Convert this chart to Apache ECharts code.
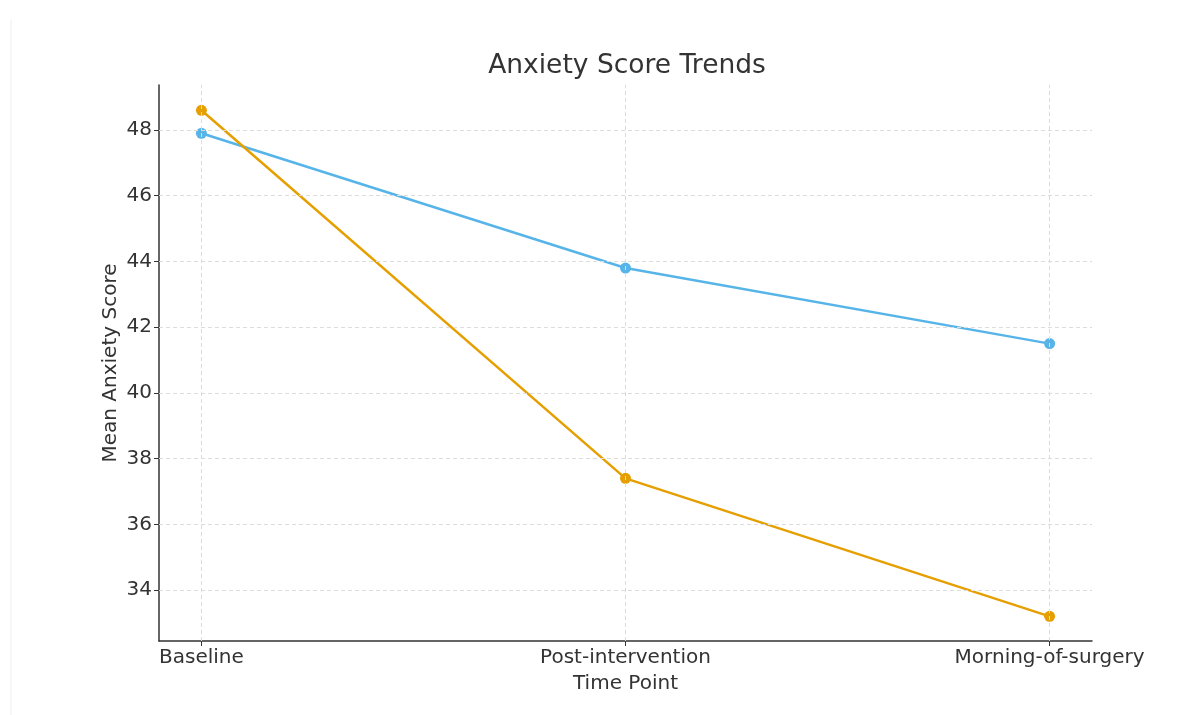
<!DOCTYPE html>
<html>
<head>
<meta charset="utf-8">
<script src="https://cdn.jsdelivr.net/npm/echarts@6/dist/echarts.min.js"></script>
<style>html,body{margin:0;padding:0;background:#fff}#c{width:1202px;height:715px}</style>
</head>
<body>
<div id="c"></div>
<script>
const categories = ['Baseline', 'Post-intervention', 'Morning-of-surgery'];
const seriesA = [47.9, 43.8, 41.5];
const seriesB = [48.6, 37.4, 33.2];
const yTicks = [34, 36, 38, 40, 42, 44, 46, 48];

const chart = echarts.init(document.getElementById('c'));
const font = 'DejaVu Sans';
const toPts = arr => arr.map((v, i) => [i, v]);
chart.setOption({
  animation: false,
  textStyle: {fontFamily: font},
  title: {
    text: 'Anxiety Score Trends', left: 622, textAlign: 'center', top: 48,
    textStyle: {fontFamily: font, fontSize: 26.5, fontWeight: 'normal', color: '#333'}
  },
  graphic: [{type: 'line', shape: {x1: 11, y1: 20, x2: 11, y2: 715}, style: {stroke: '#eeeeee', lineWidth: 1}}],
  grid: {left: 159, right: 110, top: 85, bottom: 74},
  xAxis: {
    type: 'value', min: -0.1, max: 2.1,
    name: 'Time Point', nameLocation: 'middle', nameGap: 33, nameMoveOverlap: false,
    nameTextStyle: {fontFamily: font, fontSize: 20, color: '#333'},
    axisLine: {show: true, onZero: false, lineStyle: {color: '#333', width: 1.5}},
    axisTick: {show: true, customValues: [0, 1, 2], length: 5, lineStyle: {color: '#333'}},
    axisLabel: {customValues: [0, 1, 2], formatter: v => categories[Math.round(v)] || '', fontFamily: font, fontSize: 20, color: '#333', margin: 7},
    splitLine: {show: false}
  },
  yAxis: {
    type: 'value', min: 32.45, max: 49.37,
    name: 'Mean Anxiety Score', nameLocation: 'middle', nameGap: 38, nameRotate: 90, nameMoveOverlap: false,
    nameTextStyle: {fontFamily: font, fontSize: 20, color: '#333'},
    axisLine: {show: true, onZero: false, lineStyle: {color: '#333', width: 1.5}},
    axisTick: {show: true, customValues: yTicks, length: 5, lineStyle: {color: '#333'}},
    axisLabel: {customValues: yTicks, fontFamily: font, fontSize: 20, color: '#333', margin: 7},
    splitLine: {show: false}
  },
  series: [
    {
      type: 'line', data: toPts(seriesA), color: '#56B4E9', symbol: 'circle', symbolSize: 11,
      itemStyle: {borderWidth: 0}, lineStyle: {width: 2.5}, z: 3,
      markLine: {
        silent: true, symbol: 'none', label: {show: false},
        lineStyle: {color: '#dcdcdc', type: [4, 3], width: 1},
        data: [0, 1, 2].map(v => ({xAxis: v})).concat(yTicks.map(v => ({yAxis: v})))
      }
    },
    {
      type: 'line', data: toPts(seriesB), color: '#E69F00', symbol: 'circle', symbolSize: 11,
      itemStyle: {borderWidth: 0}, lineStyle: {width: 2.5}, z: 3
    }
  ]
});
</script>
</body>
</html>
